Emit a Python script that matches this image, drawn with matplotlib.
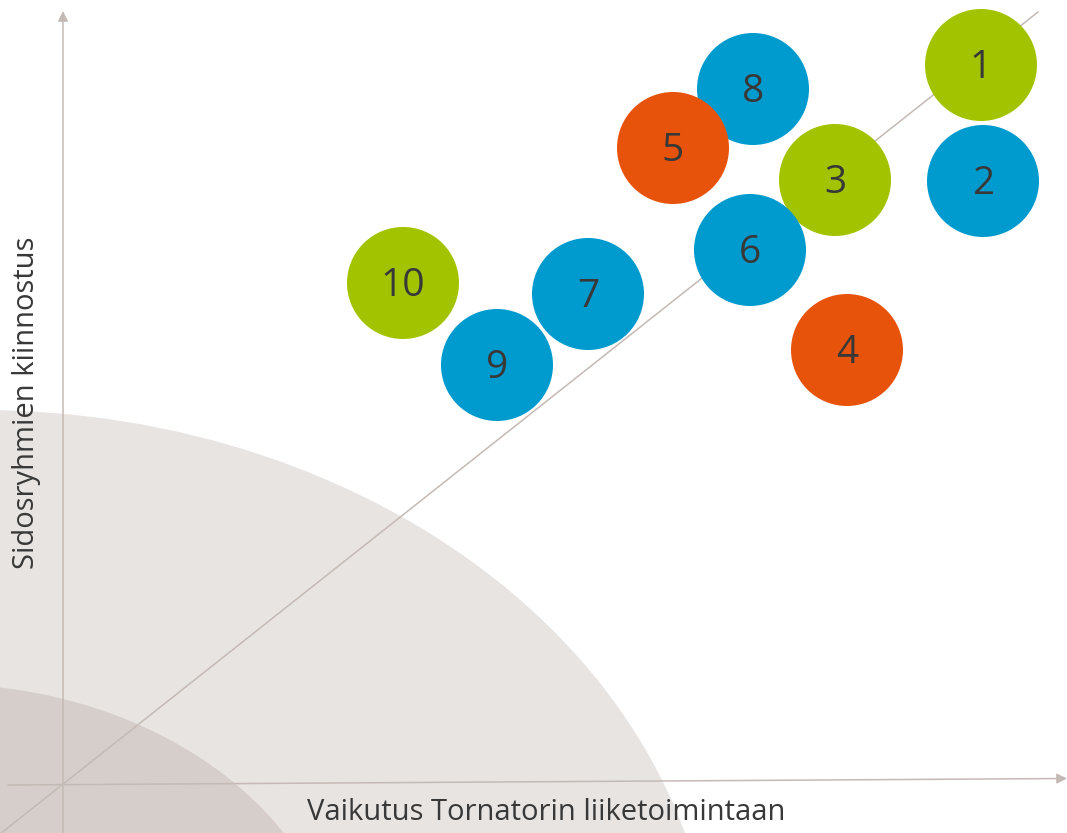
import matplotlib.pyplot as plt
from matplotlib.patches import Circle, Ellipse
from matplotlib import font_manager

# topics: x = impact on business, y = stakeholder interest
labels = ["1", "2", "3", "4", "5", "6", "7", "8", "9", "10"]
impact = [9.18, 9.20, 7.72, 7.84, 6.10, 6.87, 5.25, 6.90, 4.34, 3.40]
interest = [7.19, 6.03, 6.04, 4.34, 6.36, 5.34, 4.90, 6.95, 4.19, 5.01]
groups = ["g", "b", "g", "o", "o", "b", "b", "b", "b", "g"]
draw_order = [0, 1, 2, 7, 3, 4, 5, 6, 8, 9]

colors = {"g": "#a2c400", "b": "#009bce", "o": "#e8530c"}
line_col = "#c4bab5"

fam = "Open Sans"
names = {f.name for f in font_manager.fontManager.ttflist}
if fam not in names:
    fam = "DejaVu Sans"

fig = plt.figure(figsize=(10.67, 8.33), dpi=100)
ax = fig.add_axes([0, 0, 1, 1])
ax.set_xlim(-0.63, 10.04)
ax.set_ylim(-0.49, 7.84)
ax.axis("off")

# background zones
ax.add_patch(Ellipse((-0.83, -2.16), 14.7, 11.8, color="#e8e4e1", lw=0, zorder=0))
ax.add_patch(Ellipse((-1.23, -2.16), 8.1, 6.32, color="#d6cecb", lw=0, zorder=1))

# diagonal
ax.plot([-0.63, 9.75], [-0.50, 7.72], color=line_col, lw=1.1, zorder=2)

# axes with arrows
ax.annotate("", xy=(0, 7.73), xytext=(0, -0.49),
            arrowprops=dict(arrowstyle="-|>,head_length=0.6,head_width=0.3",
                            color=line_col, lw=1.1, shrinkA=0, shrinkB=0), zorder=2)
ax.annotate("", xy=(10.04, 0.055), xytext=(-0.55, -0.01),
            arrowprops=dict(arrowstyle="-|>,head_length=0.6,head_width=0.3",
                            color=line_col, lw=1.1, shrinkA=0, shrinkB=0), zorder=2)

for k, i in enumerate(draw_order):
    ax.add_patch(Circle((impact[i], interest[i]), 0.56, color=colors[groups[i]],
                        lw=0, zorder=3 + k))
    ax.text(impact[i], interest[i] - 0.03, labels[i], ha="center", va="center",
            fontsize=28, family=fam, color="#383838", zorder=3 + k)

ax.text(4.83, -0.29, "Vaikutus Tornatorin liiketoimintaan", ha="center",
        va="center", fontsize=21, family=fam, color="#383838")
ax.text(-0.36, 3.81, "Sidosryhmien kiinnostus", ha="center", va="center",
        rotation=90, fontsize=21, family=fam, color="#383838")

fig.savefig("out.png", dpi=100)
